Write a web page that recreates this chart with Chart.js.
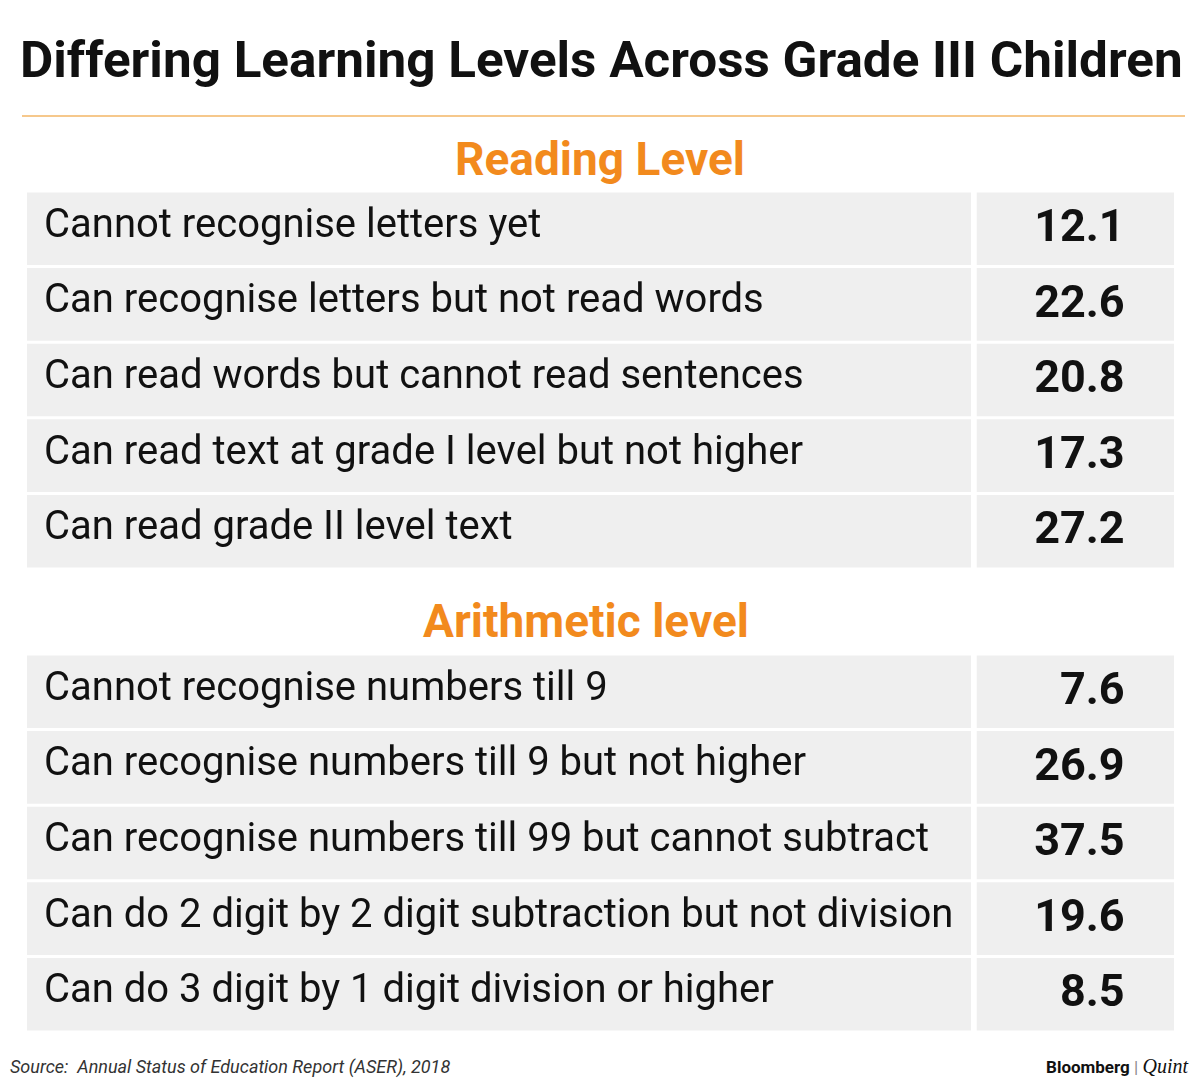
<!DOCTYPE html>
<html>
<head>
<meta charset="utf-8">
<script src="https://cdn.jsdelivr.net/npm/chart.js@4/dist/chart.umd.min.js"></script>
<style>
  body { margin: 0; width: 1200px; height: 1087px; background: #fff; font-family: Roboto, sans-serif; position: relative; overflow: hidden; }
  .abs { position: absolute; white-space: nowrap; }
  #title { left: 20px; top: 31px; font-size: 50px; font-weight: 700; color: #111; transform-origin: left top; }
  #rule { left: 22px; top: 115px; width: 1163px; height: 2px; background: #f6c88c; }
  .head { font-size: 46px; font-weight: 700; color: #f28a1d; transform: translateX(-50%); }
  .box { position: absolute; left: 27px; width: 1147px; height: 378px; }
  #source { left: 10px; top: 1056px; font-size: 18px; font-style: italic; color: #333; }
  #brand { right: 12px; top: 1055px; font-size: 17px; color: #111; }
</style>
</head>
<body>
<div id="title" class="abs">Differing Learning Levels Across Grade III Children</div>
<div id="rule" class="abs"></div>
<div class="abs head" style="left:600px; top:132px;">Reading Level</div>
<div class="box" style="top:191px;"><canvas id="readingChart"></canvas></div>
<div class="abs head" style="left:586px; top:594px;">Arithmetic level</div>
<div class="box" style="top:654px;"><canvas id="arithChart"></canvas></div>
<div id="source" class="abs">Source:&nbsp; Annual Status of Education Report (ASER), 2018</div>
<div id="brand" class="abs"><b>Bloomberg</b> <span style="color:#888">|</span> <i style="font-family:'Liberation Serif',serif;font-size:20px">Quint</i></div>
<script>
// reading level rows
const readingLabels = [
    'Cannot recognise letters yet',
    'Can recognise letters but not read words',
    'Can read words but cannot read sentences',
    'Can read text at grade I level but not higher',
    'Can read grade II level text'
];
const readingValues = [12.1, 22.6, 20.8, 17.3, 27.2];

// arithmetic level rows
const arithLabels = [
    'Cannot recognise numbers till 9',
    'Can recognise numbers till 9 but not higher',
    'Can recognise numbers till 99 but cannot subtract',
    'Can do 2 digit by 2 digit subtraction but not division',
    'Can do 3 digit by 1 digit division or higher'
];
const arithValues = [7.6, 26.9, 37.5, 19.6, 8.5];

// fit the title to the rule width
const title = document.getElementById('title');
title.style.transform = 'scaleX(' + (1163 / title.offsetWidth) + ')';

const cellText = {
    id: 'cellText',
    afterDatasetsDraw(chart) {
        const ctx = chart.ctx;
        const meta = chart.getDatasetMeta(0);
        const x = chart.scales.x;
        ctx.save();
        ctx.textBaseline = 'middle';
        meta.data.forEach((bar, i) => {
            ctx.fillStyle = '#111';
            ctx.font = '40px Roboto';
            ctx.textAlign = 'left';
            ctx.fillText(chart.data.labels[i], x.left + 17, bar.y - 2);
            ctx.font = 'bold 45px Roboto';
            ctx.textAlign = 'right';
            ctx.fillText(chart.options.values[i].toFixed(1), x.getPixelForValue(0.957), bar.y + 1);
        });
        ctx.restore();
    }
};

function makeTable(id, labels, values) {
    new Chart(document.getElementById(id), {
        type: 'bar',
        data: {
            labels: labels,
            datasets: [{
                data: labels.map(() => [0, 0.823]),
                backgroundColor: '#efefef',
                grouped: false,
                barPercentage: 1,
                categoryPercentage: 0.96
            }, {
                data: labels.map(() => [0.828, 1]),
                backgroundColor: '#efefef',
                grouped: false,
                barPercentage: 1,
                categoryPercentage: 0.96
            }]
        },
        options: {
            values: values,
            indexAxis: 'y',
            responsive: true,
            maintainAspectRatio: false,
            animation: false,
            layout: { padding: 0 },
            plugins: { legend: { display: false }, tooltip: { enabled: false } },
            scales: {
                x: { display: false, min: 0, max: 1 },
                y: { display: false }
            }
        },
        plugins: [cellText]
    });
}

makeTable('readingChart', readingLabels, readingValues);
makeTable('arithChart', arithLabels, arithValues);
</script>
</body>
</html>
